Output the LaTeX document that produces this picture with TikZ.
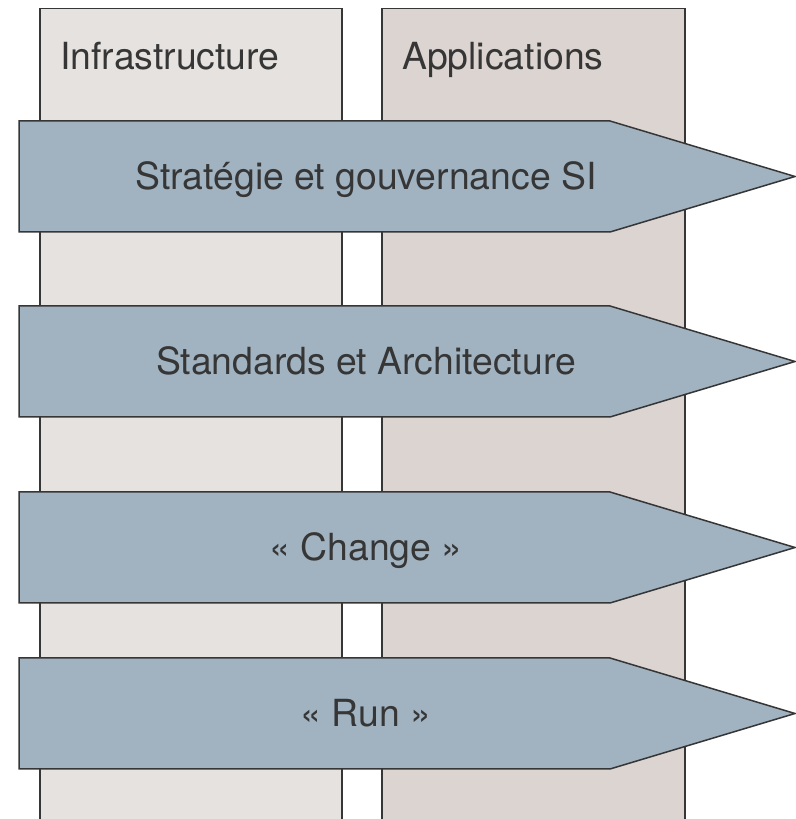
\documentclass[tikz,border=0pt]{standalone}
\usepackage{fontspec}
\setmainfont{TeX Gyre Heros}
\usepackage{tikz}

\definecolor{infrafill}{HTML}{E6E2DF}
\definecolor{appfill}{HTML}{DCD4D1}
\definecolor{bandfill}{HTML}{A1B3C1}
\definecolor{inkgray}{HTML}{363636}

\tikzset{
  column/.style={draw=inkgray, line width=1.5bp},
  band/.style={draw=inkgray, fill=bandfill, line width=1.5bp, line join=miter},
  coltext/.style={text=inkgray, font=\fontsize{37.5}{45}\selectfont, inner sep=0pt, anchor=base west},
  bandtext/.style={text=inkgray, font=\fontsize{37.5}{45}\selectfont, inner sep=0pt, anchor=base},
}

\begin{document}
\begin{tikzpicture}[x=1bp, y=1bp]
    \useasboundingbox (0,0) rectangle (796,819);
    \clip (0,0) rectangle (796,819);

    % columns
    \filldraw[column, fill=infrafill] (40,-5) -- (40,810.5) -- (342,810.5) -- (342,-5);
    \filldraw[column, fill=appfill] (382,-5) -- (382,810.5) -- (685,810.5) -- (685,-5);
    \node[coltext] (infra) at (60,749) {Infrastructure};
    \node[coltext] (apps) at (402,749) {Applications};

    % bands
    \foreach \yc/\txt/\nm in {642.5/Stratégie et gouvernance SI/strat,
                              457.5/Standards et Architecture/archi,
                              271.5/« Change »/change,
                              105.5/« Run »/run}{
        \filldraw[band] (19,\yc+55.5) -- (610,\yc+55.5) -- (795,\yc) -- (610,\yc-55.5) -- (19,\yc-55.5) -- cycle;
        \node[bandtext] (\nm) at (366,\yc-13.5) {\txt};
    }
\end{tikzpicture}
\end{document}
